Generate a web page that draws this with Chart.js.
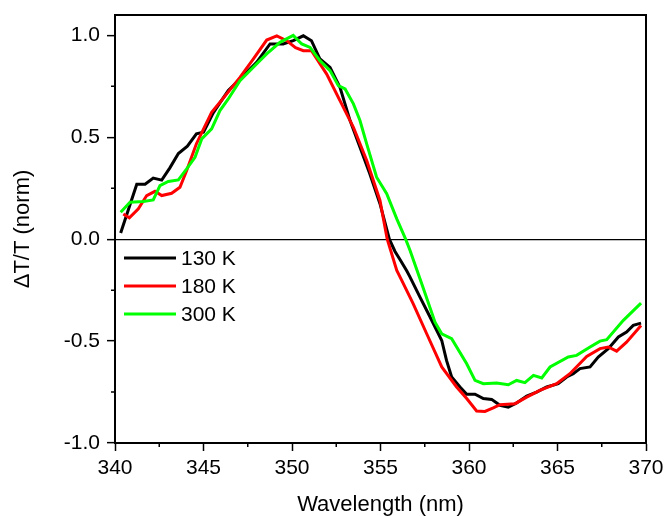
<!doctype html>
<html lang="en">
<head>
<meta charset="utf-8">
<style>
  html, body { margin: 0; padding: 0; background: #fff; }
  #wrap { width: 665px; height: 516px; }
</style>
</head>
<body>
<div id="wrap">
    <canvas id="myChart" width="665" height="516"></canvas>
</div>

<script src="https://cdn.jsdelivr.net/npm/chart.js"></script>
<script>
// Wavelength (nm) and normalised dT/T, one pair of arrays per temperature
const wl130 = [340.32, 341.23, 341.7, 342.16, 342.64, 343.1, 343.58, 344.09, 344.6, 345.0, 345.55, 346.4, 347.06, 348.0,
    348.76, 349.5, 350.07, 350.64, 351.1, 351.58, 352.15, 352.71, 353.28, 353.84, 354.4, 354.97, 355.5, 355.82, 356.1,
    356.48, 356.67, 357.23, 357.8, 358.46, 358.73, 359.02, 359.49, 359.87, 360.34, 360.81, 361.28, 361.75, 362.22,
    362.69, 363.26, 363.82, 364.39, 365.04, 365.52, 365.89, 366.27, 366.84, 367.3, 367.87, 368.44, 368.9, 369.28, 369.72];
const dt130 = [0.03, 0.27, 0.27, 0.30, 0.29, 0.35, 0.42, 0.456, 0.517, 0.525, 0.62, 0.73, 0.786, 0.868,
    0.958, 0.958, 0.974, 0.998, 0.974, 0.884, 0.843, 0.745, 0.582, 0.451, 0.32, 0.174, 0.0, -0.06, -0.10,
    -0.155, -0.186, -0.284, -0.382, -0.497, -0.595, -0.676, -0.725, -0.761, -0.761, -0.782, -0.786, -0.815, -0.824,
    -0.804, -0.77, -0.75, -0.725, -0.709, -0.676, -0.66, -0.635, -0.627, -0.578, -0.537, -0.48, -0.456, -0.423, -0.412];

const wl180 = [340.47, 340.81, 341.32, 341.79, 342.26, 342.64, 343.2, 343.67, 344.05, 344.6, 345.46, 345.93, 347.06,
    347.81, 348.57, 349.14, 349.7, 350.2, 350.64, 351.1, 351.96, 352.71, 353.47, 354.22, 354.97, 355.38, 355.92, 356.2,
    356.85, 357.61, 358.46, 359.3, 359.87, 360.43, 360.9, 361.37, 361.75, 362.6, 363.26, 364.0, 364.95, 365.7, 366.65,
    367.4, 367.87, 368.34, 368.9, 369.72];
const dt180 = [0.124, 0.105, 0.149, 0.214, 0.235, 0.214, 0.225, 0.255, 0.337, 0.468, 0.623, 0.672, 0.794,
    0.884, 0.977, 0.998, 0.974, 0.94, 0.925, 0.925, 0.81, 0.68, 0.549, 0.386, 0.19, 0.0, -0.153, -0.202,
    -0.317, -0.464, -0.627, -0.725, -0.782, -0.843, -0.845, -0.828, -0.812, -0.807, -0.775, -0.742, -0.709, -0.66, -0.575,
    -0.537, -0.529, -0.549, -0.505, -0.423];

const wl300 = [340.32, 340.85, 341.6, 342.16, 342.54, 343.01, 343.58, 344.05, 344.52, 344.9, 345.46, 345.93, 346.4,
    347.06, 348.0, 348.57, 349.32, 350.07, 350.55, 351.02, 351.58, 352.15, 352.62, 353.0, 353.47, 353.84, 354.22, 354.78,
    355.35, 355.92, 356.42, 356.67, 357.33, 358.08, 358.46, 359.02, 359.87, 360.34, 360.81, 361.56, 362.22, 362.69,
    363.16, 363.64, 364.11, 364.58, 365.61, 366.08, 366.84, 367.4, 367.78, 368.72, 369.72];
const dt300 = [0.132, 0.181, 0.185, 0.193, 0.263, 0.283, 0.291, 0.345, 0.402, 0.492, 0.541, 0.631, 0.688,
    0.778, 0.86, 0.909, 0.966, 1.0, 0.958, 0.941, 0.876, 0.827, 0.753, 0.737, 0.664, 0.582, 0.468, 0.304,
    0.223, 0.1, 0.0, -0.055, -0.219, -0.407, -0.464, -0.488, -0.611, -0.693, -0.709, -0.706, -0.714, -0.693,
    -0.704, -0.668, -0.681, -0.627, -0.578, -0.570, -0.529, -0.5, -0.493, -0.398, -0.314];

const seriesLabels = ['130 K', '180 K', '300 K'];
const seriesColors = ['#000000', '#ff0000', '#00ff00'];

const xMinorTicks = [342.5, 347.5, 352.5, 357.5, 362.5, 367.5];
const yMinorTicks = [-0.75, -0.25, 0.25, 0.75];

const FONT = "'Liberation Sans', Arial, sans-serif";

function toPoints(xs, ys) {
    return xs.map((x, i) => ({ x: x, y: ys[i] }));
}

// no extra room for edge labels, the plot box is fixed by the layout padding
function noEdgePadding(scale) {
    scale.paddingTop = 0;
    scale.paddingBottom = 0;
    scale.paddingLeft = 0;
    scale.paddingRight = 0;
}

// frame on top/right, minor ticks and the legend inside the plot
const decorations = {
    id: 'decorations',
    afterDraw(chart) {
        const c = chart.ctx;
        const area = chart.chartArea;
        const xs = chart.scales.x;
        const ys = chart.scales.y;
        c.save();
        c.strokeStyle = '#000';
        c.lineWidth = 2;
        c.beginPath();
        c.moveTo(area.left, area.top);
        c.lineTo(area.right, area.top);
        c.lineTo(area.right, area.bottom);
        c.stroke();

        c.lineWidth = 1.5;
        c.beginPath();
        xMinorTicks.forEach(v => {
            const px = xs.getPixelForValue(v);
            c.moveTo(px, area.bottom);
            c.lineTo(px, area.bottom + 4);
        });
        yMinorTicks.forEach(v => {
            const py = ys.getPixelForValue(v);
            c.moveTo(area.left, py);
            c.lineTo(area.left - 4, py);
        });
        c.stroke();

        // legend
        c.font = '21px ' + FONT;
        c.textBaseline = 'middle';
        c.textAlign = 'left';
        chart.data.datasets.forEach((ds, i) => {
            const y = area.top + 243 + i * 28;
            c.strokeStyle = ds.borderColor;
            c.lineWidth = 3;
            c.beginPath();
            c.moveTo(area.left + 9, y);
            c.lineTo(area.left + 61, y);
            c.stroke();
            c.fillStyle = '#000';
            c.fillText(ds.label, area.left + 66, y + 1);
        });
        c.restore();
    }
};

const ctx = document.getElementById('myChart');

new Chart(ctx, {
    type: 'line',
    data: {
        datasets: [
            { label: seriesLabels[0], data: toPoints(wl130, dt130), borderColor: seriesColors[0], order: 3 },
            { label: seriesLabels[1], data: toPoints(wl180, dt180), borderColor: seriesColors[1], order: 2 },
            { label: seriesLabels[2], data: toPoints(wl300, dt300), borderColor: seriesColors[2], order: 1 }
        ]
    },
    options: {
        responsive: false,
        animation: false,
        events: [],
        layout: { padding: { left: 0, right: 19, top: 15, bottom: 0 } },
        elements: {
            line: { borderWidth: 3, tension: 0, fill: false },
            point: { radius: 0 }
        },
        plugins: {
            legend: { display: false },
            tooltip: { enabled: false }
        },
        scales: {
            x: {
                type: 'linear',
                min: 340,
                max: 370,
                afterFit(scale) {
                    scale.height = 73;
                    noEdgePadding(scale);
                },
                ticks: {
                    stepSize: 5,
                    color: '#000',
                    padding: 5,
                    maxRotation: 0,
                    font: { family: FONT, size: 21 }
                },
                grid: {
                    drawOnChartArea: false,
                    tickLength: 8,
                    tickColor: '#000',
                    tickWidth: 1.5
                },
                border: { color: '#000', width: 2 },
                title: {
                    display: true,
                    text: 'Wavelength (nm)',
                    color: '#000',
                    font: { family: FONT, size: 22, lineHeight: 1 },
                    padding: { top: 0, bottom: 0 }
                }
            },
            y: {
                min: -1,
                max: 1.1,
                afterFit(scale) {
                    scale.width = 115;
                    noEdgePadding(scale);
                },
                ticks: {
                    stepSize: 0.5,
                    includeBounds: false,
                    color: '#000',
                    padding: 7,
                    font: { family: FONT, size: 21 },
                    callback: v => v.toFixed(1)
                },
                grid: {
                    color: c => (c.tick && c.tick.value === 0) ? '#000' : 'rgba(0,0,0,0)',
                    lineWidth: 1.3,
                    tickLength: 8,
                    tickColor: '#000',
                    tickWidth: 1.5
                },
                border: { color: '#000', width: 2 },
                title: {
                    display: true,
                    text: 'ΔT/T (norm)',
                    color: '#000',
                    font: { family: FONT, size: 22, lineHeight: 1 },
                    padding: { top: 12, bottom: 0 }
                }
            }
        }
    },
    plugins: [decorations]
});
</script>
</body>
</html>
